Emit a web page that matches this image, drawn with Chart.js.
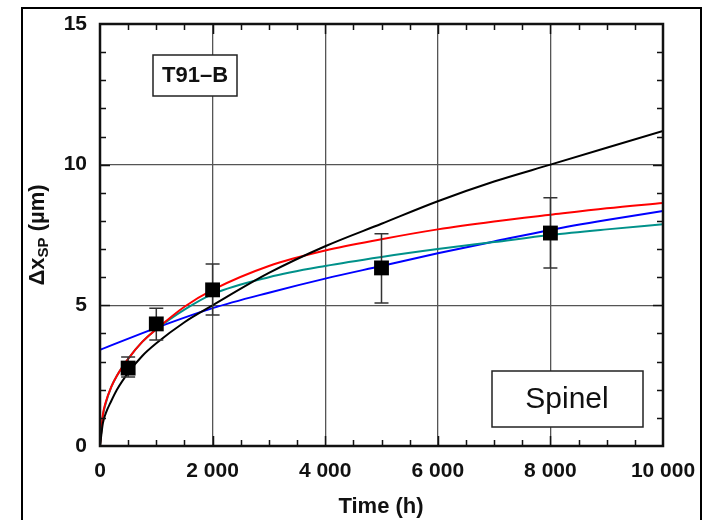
<!DOCTYPE html>
<html>
<head>
<meta charset="utf-8">
<script src="https://cdn.jsdelivr.net/npm/chart.js@4/dist/chart.umd.min.js"></script>
<style>
  html, body { margin: 0; padding: 0; background: #fff; }
</style>
</head>
<body>
<canvas id="myChart" width="705" height="520"></canvas>
<script>
// measured points (time in h, thickness in µm)
const pointTimes = [500, 1000, 2000, 5000, 8000];
const pointValues = [2.77, 4.34, 5.55, 6.33, 7.57];
const errLow = [2.45, 3.77, 4.66, 5.08, 6.33];
const errHigh = [3.16, 4.9, 6.47, 7.54, 8.82];

// fitted curves
const curveTimes = [0, 50, 100, 200, 300, 500, 750, 1000, 1500, 2000, 3000, 4000, 5000, 6000, 7000, 8000, 9000, 10000];
const blackFit = [0, 0.8, 1.15, 1.6, 2.0, 2.6, 3.2, 3.65, 4.4, 5.0, 6.15, 7.1, 7.9, 8.7, 9.4, 10.0, 10.6, 11.2];
const redFit = [0, 1.1, 1.55, 2.1, 2.5, 3.1, 3.7, 4.15, 4.95, 5.55, 6.4, 6.95, 7.35, 7.7, 7.98, 8.22, 8.45, 8.64];
const tealFit = [0, 1.05, 1.5, 2.1, 2.5, 3.1, 3.7, 4.15, 4.85, 5.4, 6.0, 6.4, 6.72, 7.0, 7.25, 7.5, 7.7, 7.88];
const blueTimes = [0, 1000, 2000, 3000, 4000, 5000, 6000, 7000, 8000, 9000, 10000];
const blueFit = [3.42, 4.2, 4.9, 5.45, 5.95, 6.4, 6.85, 7.27, 7.68, 8.03, 8.35];

const xTicks = [0, 2000, 4000, 6000, 8000, 10000];
const yTicks = [0, 5, 10, 15];

const FONT = "'Liberation Sans', Arial, sans-serif";

function pairs(xs, ys) {
  return xs.map(function (x, i) { return { x: x, y: ys[i] }; });
}

function lineSet(xs, ys, color) {
  return {
    type: "line",
    data: pairs(xs, ys),
    borderColor: color,
    borderWidth: 2,
    pointRadius: 0,
    fill: false,
    cubicInterpolationMode: "monotone",
    order: 2
  };
}

function box(ctx, x, y, w, h) {
  ctx.fillStyle = "#fff";
  ctx.fillRect(x, y, w, h);
  ctx.strokeStyle = "#222";
  ctx.lineWidth = 1.5;
  ctx.strokeRect(x, y, w, h);
}

const decorations = {
  id: "decorations",
  beforeDraw(chart) {
    const ctx = chart.ctx;
    ctx.save();
    ctx.fillStyle = "#fff";
    ctx.fillRect(0, 0, chart.width, chart.height);
    ctx.strokeStyle = "#000";
    ctx.lineWidth = 2;
    ctx.strokeRect(22, 8, 679, 530);
    ctx.restore();
  },
  beforeDatasetDraw(chart, args) {
    if (args.index !== 0) return;
    const ctx = chart.ctx;
    const xs = chart.scales.x, ys = chart.scales.y;
    ctx.save();
    ctx.strokeStyle = "#333";
    ctx.lineWidth = 1.5;
    pointTimes.forEach(function (t, i) {
      const px = xs.getPixelForValue(t);
      const lo = ys.getPixelForValue(errLow[i]);
      const hi = ys.getPixelForValue(errHigh[i]);
      ctx.beginPath();
      ctx.moveTo(px, lo); ctx.lineTo(px, hi);
      ctx.moveTo(px - 7, lo); ctx.lineTo(px + 7, lo);
      ctx.moveTo(px - 7, hi); ctx.lineTo(px + 7, hi);
      ctx.stroke();
    });
    ctx.restore();
  },
  afterDraw(chart) {
    const ctx = chart.ctx;
    const a = chart.chartArea;
    const xs = chart.scales.x, ys = chart.scales.y;
    ctx.save();

    // inner tick marks on all four sides
    ctx.strokeStyle = "#111";
    ctx.lineWidth = 1.5;
    ctx.beginPath();
    for (let t = 500; t < 10000; t += 500) {
      const px = Math.round(xs.getPixelForValue(t)) + 0.5;
      const len = t % 2000 === 0 ? 10 : 6;
      ctx.moveTo(px, a.bottom); ctx.lineTo(px, a.bottom - len);
      ctx.moveTo(px, a.top); ctx.lineTo(px, a.top + len);
    }
    for (let v = 1; v < 15; v += 1) {
      const py = Math.round(ys.getPixelForValue(v)) + 0.5;
      const len = v % 5 === 0 ? 10 : 6;
      ctx.moveTo(a.left, py); ctx.lineTo(a.left + len, py);
      ctx.moveTo(a.right, py); ctx.lineTo(a.right - len, py);
    }
    ctx.stroke();

    // plot frame
    ctx.lineWidth = 2.5;
    ctx.strokeStyle = "#111";
    ctx.strokeRect(a.left, a.top, a.right - a.left, a.bottom - a.top);

    // label boxes
    box(ctx, 153, 55, 84, 41);
    ctx.fillStyle = "#111";
    ctx.textAlign = "center";
    ctx.textBaseline = "middle";
    ctx.font = "bold 22px " + FONT;
    ctx.fillText("T91\u2013B", 195, 76);

    box(ctx, 492, 371, 151, 56);
    ctx.fillStyle = "#111";
    ctx.font = "30px " + FONT;
    ctx.fillText("Spinel", 567, 400);

    // axis titles
    ctx.font = "bold 22px " + FONT;
    ctx.fillText("Time (h)", 381, 507);

    ctx.translate(38, 235);
    ctx.rotate(-Math.PI / 2);
    const main1 = "\u0394x";
    const sub = "SP";
    const main2 = " (\u00b5m)";
    ctx.font = "bold 22px " + FONT;
    const w1 = ctx.measureText(main1).width;
    const w3 = ctx.measureText(main2).width;
    ctx.font = "bold 15px " + FONT;
    const w2 = ctx.measureText(sub).width;
    let x0 = -(w1 + w2 + w3) / 2;
    ctx.textAlign = "left";
    ctx.font = "bold 22px " + FONT;
    ctx.fillText(main1, x0, 0);
    ctx.font = "bold 15px " + FONT;
    ctx.fillText(sub, x0 + w1, 6);
    ctx.font = "bold 22px " + FONT;
    ctx.fillText(main2, x0 + w1 + w2, 0);

    ctx.restore();
  }
};

new Chart(document.getElementById("myChart"), {
  type: "scatter",
  data: {
    datasets: [
      {
        type: "scatter",
        data: pairs(pointTimes, pointValues),
        pointStyle: "rect",
        pointRadius: 10.5,
        backgroundColor: "#000",
        borderColor: "#000",
        borderWidth: 0,
        order: 0
      },
      lineSet(curveTimes, blackFit, "#000000"),
      lineSet(curveTimes, redFit, "#ff0000"),
      lineSet(curveTimes, tealFit, "#00918a"),
      lineSet(blueTimes, blueFit, "#0000ff")
    ]
  },
  options: {
    responsive: false,
    animation: false,
    layout: { padding: { top: 24, right: 42, left: 0, bottom: 0 } },
    plugins: {
      legend: { display: false },
      tooltip: { enabled: false }
    },
    scales: {
      x: {
        type: "linear",
        min: 0,
        max: 10000,
        afterFit: function (scale) {
          scale.height = 74;
          scale.paddingLeft = 0;
          scale.paddingRight = 0;
        },
        afterBuildTicks: function (scale) {
          scale.ticks = xTicks.map(function (v) { return { value: v }; });
        },
        border: { display: false },
        grid: {
          drawTicks: false,
          color: function (c) {
            const v = c.tick ? c.tick.value : 0;
            return v > 0 && v < 10000 ? "#555" : "rgba(0,0,0,0)";
          },
          lineWidth: 1.3
        },
        ticks: {
          padding: 13,
          color: "#111",
          font: { family: FONT, size: 21, weight: "bold" },
          maxRotation: 0,
          callback: function (v) {
            return String(v).replace(/\B(?=(\d{3})+(?!\d))/g, " ");
          }
        }
      },
      y: {
        type: "linear",
        min: 0,
        max: 15,
        afterFit: function (scale) {
          scale.width = 100;
          scale.paddingTop = 0;
          scale.paddingBottom = 0;
        },
        afterBuildTicks: function (scale) {
          scale.ticks = yTicks.map(function (v) { return { value: v }; });
        },
        border: { display: false },
        grid: {
          drawTicks: false,
          color: function (c) {
            const v = c.tick ? c.tick.value : 0;
            return v > 0 && v < 15 ? "#555" : "rgba(0,0,0,0)";
          },
          lineWidth: 1.3
        },
        ticks: {
          padding: 13,
          color: "#111",
          font: { family: FONT, size: 21, weight: "bold" }
        }
      }
    }
  },
  plugins: [decorations]
});
</script>
</body>
</html>
